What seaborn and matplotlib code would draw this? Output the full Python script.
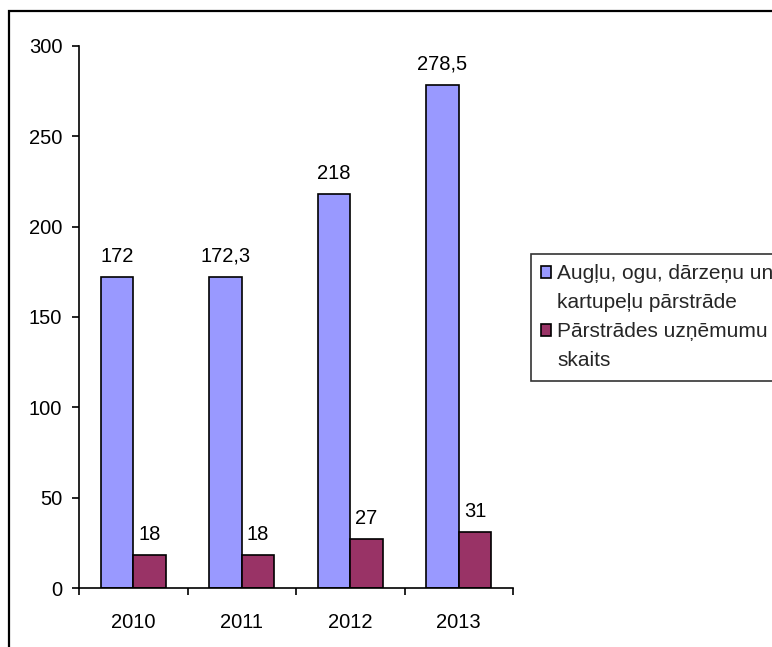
import matplotlib
matplotlib.use("Agg")
import matplotlib.pyplot as plt
import seaborn as sns
import pandas as pd
from matplotlib.patches import Rectangle
from matplotlib.ticker import FixedLocator

years = ["2010", "2011", "2012", "2013"]
series_names = ["Augļu, ogu, dārzeņu un\nkartupeļu pārstrāde",
                "Pārstrādes uzņēmumu\nskaits"]
processing = [172, 172.3, 218, 278.5]
companies = [18, 18, 27, 31]
processing_labels = ["172", "172,3", "218", "278,5"]
companies_labels = ["18", "18", "27", "31"]
yticks = [0, 50, 100, 150, 200, 250, 300]

sns.set_theme(style="white")
plt.rcParams["font.family"] = ["Liberation Sans", "DejaVu Sans"]
plt.rcParams["font.size"] = 14

df = pd.DataFrame({
    "year": years * 2,
    "value": processing + companies,
    "series": [series_names[0]] * 4 + [series_names[1]] * 4,
})

fig = plt.figure(figsize=(7.72, 6.47), dpi=100)
ax = fig.add_axes([79 / 772, 59 / 647, 434 / 772, 542 / 647])

sns.barplot(data=df, x="year", y="value", hue="series", order=years,
            hue_order=series_names, palette=["#9999FF", "#993366"],
            width=0.6, gap=0, edgecolor="black", linewidth=1.2,
            saturation=1, ax=ax, legend=True, errorbar=None)

for cont, labs in zip(ax.containers, [processing_labels, companies_labels]):
    ax.bar_label(cont, labels=labs, padding=8, fontsize=14.5, color="black")

ax.set_xlim(-0.5, 3.5)
ax.set_ylim(0, 300)
ax.set_yticks(yticks)
ax.set_xlabel("")
ax.set_ylabel("")
for s in ["top", "right"]:
    ax.spines[s].set_visible(False)
for s in ["left", "bottom"]:
    ax.spines[s].set_color("black")
    ax.spines[s].set_linewidth(1.2)

ax.tick_params(axis="y", which="major", left=True, length=5, width=1.2,
               pad=7, labelsize=14.5, colors="black", direction="out")
ax.tick_params(axis="x", which="major", bottom=True, length=0, pad=18,
               labelsize=14.5, colors="black")
ax.xaxis.set_minor_locator(FixedLocator([-0.5, 0.5, 1.5, 2.5, 3.5]))
ax.tick_params(axis="x", which="minor", bottom=True, length=5, width=1.2,
               color="black", direction="out")
for lab in ax.get_xticklabels() + ax.get_yticklabels():
    lab.set_color("black")

handles, labels = ax.get_legend_handles_labels()
ax.get_legend().remove()
leg_handles, leg_labels = [], []
for h, lab in zip(handles, labels):
    lines = lab.split("\n")
    leg_handles.append(h)
    leg_labels.append(lines[0])
    for extra in lines[1:]:
        leg_handles.append(Rectangle((0, 0), 1, 1, visible=False))
        leg_labels.append(extra)

leg = fig.legend(leg_handles, leg_labels, loc="upper left",
                 bbox_to_anchor=(531 / 772, 1 - 254 / 647),
                 bbox_transform=fig.transFigure, frameon=True,
                 fancybox=False, edgecolor="black", fontsize=15,
                 handlelength=0.48, handleheight=0.48, handletextpad=0.28,
                 borderpad=0.5, labelspacing=0.48, borderaxespad=0)
leg.get_frame().set_linewidth(1.2)

fig.patches.append(Rectangle((9 / 772, -0.1), 1.2, 1.1 - 11 / 647,
                             transform=fig.transFigure, fill=False,
                             edgecolor="black", linewidth=1.6))

fig.savefig("out.png", dpi=100)
